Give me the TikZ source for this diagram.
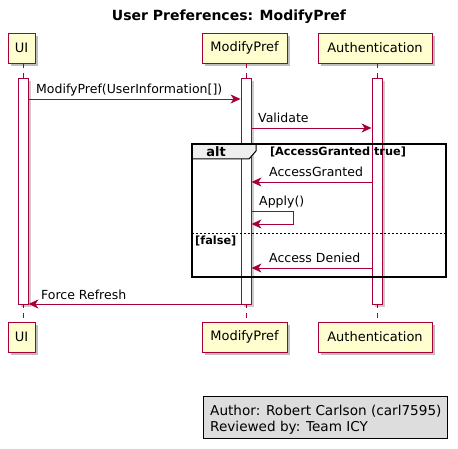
\documentclass[tikz,border=0pt]{standalone}
\usepackage{fontspec}
\setmainfont{DejaVu Sans}
\usetikzlibrary{arrows.meta,shadows}

\definecolor{umlred}{HTML}{A80036}
\definecolor{umlyellow}{HTML}{FEFECE}
\definecolor{tabgray}{HTML}{EEEEEE}
\definecolor{notegray}{HTML}{DDDDDD}

\tikzset{
  party/.style={draw=umlred, fill=umlyellow, line width=0.9pt, minimum height=30pt,
    inner sep=0pt, font=\fontsize{13}{15}\selectfont,
    drop shadow={shadow xshift=3pt, shadow yshift=-3pt, fill=black, opacity=0.25}},
  actbar/.style={draw=umlred, fill=white, line width=0.9pt, minimum width=10pt,
    minimum height=226pt, inner sep=0pt,
    drop shadow={shadow xshift=3pt, shadow yshift=-3pt, fill=black, opacity=0.2}},
  life/.style={umlred, line width=0.8pt, dash pattern=on 5pt off 5pt},
  msg/.style={umlred, line width=0.9pt, -{Stealth[length=10pt, width=9pt, inset=3pt]}},
  msgtext/.style={anchor=base west, inner sep=0pt, font=\fontsize{12.5}{15}\selectfont},
  notetext/.style={anchor=base west, inner sep=0pt, font=\fontsize{13.6}{16}\selectfont},
  frametext/.style={inner sep=0pt, font=\fontsize{11.3}{13}\selectfont\bfseries}
}

\begin{document}
\begin{tikzpicture}[x=1pt, y=-1pt]
  \useasboundingbox (0,0) rectangle (458,449);
  % titel
  \node[font=\fontsize{14}{16}\selectfont\bfseries] (title) at (229,17) {User Preferences: ModifyPref};
  % deltagare
  \node[party, minimum width=27pt] (uiTop) at (21.5,48) {UI};
  \node[party, minimum width=85pt] (mpTop) at (244.5,48) {ModifyPref};
  \node[party, minimum width=114pt] (auTop) at (375,48) {Authentication};
  \node[party, minimum width=27pt] (uiBot) at (21.5,337) {UI};
  \node[party, minimum width=85pt] (mpBot) at (244.5,337) {ModifyPref};
  \node[party, minimum width=114pt] (auBot) at (375,337) {Authentication};
  % livslinjer
  \coordinate (uiX) at (23,0);
  \coordinate (mpX) at (246,0);
  \coordinate (auX) at (377,0);
  \draw[life] (uiX |- uiTop.south) -- (uiX |- uiBot.north);
  \draw[life] (mpX |- mpTop.south) -- (mpX |- mpBot.north);
  \draw[life] (auX |- auTop.south) -- (auX |- auBot.north);
  % aktivering
  \node[actbar] (uiBar) at (23,191) {};
  \node[actbar] (mpBar) at (246,191) {};
  \node[actbar] (auBar) at (377,191) {};
  % alt-ram
  \draw[line width=1pt, fill=tabgray] (192,144) -- (256,144) -- (256,151) -- (249,159) -- (192,159) -- cycle;
  \node[frametext, font=\fontsize{13}{15}\selectfont\bfseries] (altLbl) at (216,152) {alt};
  \node[frametext] (grantLbl) at (338,152) {[AccessGranted true]};
  \draw[line width=0.6pt, dash pattern=on 2pt off 2pt] (192,233) -- (446,233);
  \node[frametext, anchor=west] (falseLbl) at (195,241) {[false]};
  \draw[line width=1.5pt] (192,144) rectangle (446,277);
  % meddelanden
  \draw[msg] (uiBar.east |- 0,99) -- (mpBar.west |- 0,99);
  \node[msgtext] (m1) at (36,94) {ModifyPref(UserInformation[])};
  \draw[msg] (mpBar.east |- 0,128) -- (auBar.west |- 0,128);
  \node[msgtext] (m2) at (258,123) {Validate};
  \draw[msg] (auBar.west |- 0,182) -- (mpBar.east |- 0,182);
  \node[msgtext] (m3) at (269,177) {AccessGranted};
  \draw[msg] (mpBar.east |- 0,211) -- (293,211) -- (293,224) -- (mpBar.east |- 0,224);
  \node[msgtext] (m4) at (259,206) {Apply()};
  \draw[msg] (auBar.west |- 0,268) -- (mpBar.east |- 0,268);
  \node[msgtext] (m5) at (269,263) {Access Denied};
  \draw[msg] (mpBar.west |- 0,304) -- (uiBar.east |- 0,304);
  \node[msgtext] (m6) at (41,299) {Force Refresh};
  % fotnot
  \node[draw, line width=0.9pt, fill=notegray, minimum width=244pt, minimum height=42pt,
    inner sep=0pt] (note) at (325,417) {};
  \node[notetext] (noteA) at (210,415) {Author: Robert Carlson (carl7595)};
  \node[notetext] (noteB) at (210,431) {Reviewed by: Team ICY};
\end{tikzpicture}
\end{document}
